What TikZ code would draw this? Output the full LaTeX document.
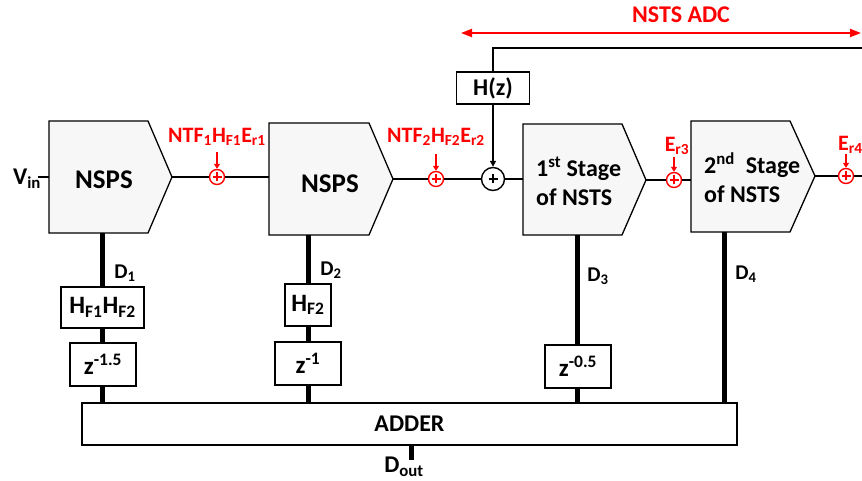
\documentclass[tikz,border=0pt]{standalone}
\usepackage{fontspec}
\setmainfont{Carlito}
\usetikzlibrary{arrows.meta}
\begin{document}
\begin{tikzpicture}[x=1pt,y=-1pt,
  wire/.style={line width=1.5pt},
  bus/.style={line width=5pt},
  blk/.style={draw, line width=1.3pt, fill=black!3, line join=miter},
  bx/.style={draw, line width=1.3pt, fill=white, inner sep=0pt, font=\bfseries\fontsize{25}{28}\selectfont},
  lbl/.style={font=\bfseries\fontsize{21}{24}\selectfont, inner sep=0pt},
  mid/.style={font=\bfseries\fontsize{24}{29}\selectfont, inner sep=0pt},
  rlbl/.style={text=red, font=\bfseries\fontsize{22}{24}\selectfont, inner sep=0pt},
  summ/.style={circle, draw=#1, line width=1.4pt, inner sep=0pt, fill=white,
    path picture={\draw[#1, line width=1.6pt]
      ([xshift=-4.5pt]path picture bounding box.center) -- ([xshift=4.5pt]path picture bounding box.center)
      ([yshift=-4.5pt]path picture bounding box.center) -- ([yshift=4.5pt]path picture bounding box.center);}},
  rarr/.style={red, line width=1.5pt, -{Triangle[length=5pt,width=6pt]}},
]
\useasboundingbox (0,0) rectangle (862,481);

% ---- blocks (pentagons)
\draw[blk] (49,121) -- (148,121) -- (172,177) -- (148,233) -- (49,233) -- cycle;
\draw[blk] (269,123) -- (369,123) -- (393,179) -- (369,235) -- (269,235) -- cycle;
\draw[blk] (523,124) -- (622,124) -- (646,180) -- (622,235) -- (523,235) -- cycle;
\draw[blk] (691,121) -- (790,121) -- (815,176) -- (790,232) -- (691,232) -- cycle;

\coordinate (n1in) at (49,177);  \coordinate (n1out) at (172,177); \coordinate (n1b) at (102,233);
\coordinate (n2in) at (269,177); \coordinate (n2out) at (393,179); \coordinate (n2b) at (308,235);
\coordinate (s1in) at (523,179); \coordinate (s1out) at (646,180); \coordinate (s1b) at (577,235);
\coordinate (s2in) at (691,180); \coordinate (s2out) at (815,176); \coordinate (s2b) at (724,232);
\coordinate (vinL) at (38,177);  \coordinate (outR) at (862,176);

\node[font=\bfseries\fontsize{27}{30}\selectfont, inner sep=0pt] (nsps1) at (104,180) {NSPS};
\node[font=\bfseries\fontsize{27}{30}\selectfont, inner sep=0pt] (nsps2) at (330,184) {NSPS};
\node[mid, align=left, anchor=west] (st1) at (536,181) {1\textsuperscript{st} Stage\\of NSTS};
\node[mid, align=left, anchor=west] (st2) at (704,178) {2\textsuperscript{nd}\ \ Stage\\of NSTS};

% ---- summing nodes
\node[summ=red, minimum size=15pt] (e1) at (217,177) {};
\node[summ=red, minimum size=15pt] (e2) at (436,179) {};
\node[summ=black, minimum size=23pt] (bs) at (493,179) {};
\node[summ=red, minimum size=15pt] (e3) at (674,180) {};
\node[summ=red, minimum size=15pt] (e4) at (846,176) {};

% ---- main signal path
\draw[wire] (vinL) -- (n1in);
\draw[wire] (n1out) -- (e1) -- (n2in);
\draw[wire] (n2out) -- (e2) -- (bs) -- (s1in);
\draw[wire] (s1out) -- (e3) -- (s2in);
\draw[wire] (s2out) -- (e4) -- (outR);

\node[mid] (vin) at (27,179) {V\textsubscript{in}};

% ---- error labels
\node[rlbl] (l1) at (217,137) {NTF\textsubscript{1}H\textsubscript{F1}E\textsubscript{r1}};
\node[rlbl] (l2) at (436,137) {NTF\textsubscript{2}H\textsubscript{F2}E\textsubscript{r2}};
\node[rlbl] (l3) at (677,146) {E\textsubscript{r3}};
\node[rlbl, anchor=west] (l4) at (838,145) {E\textsubscript{r4}};
\coordinate (a1) at (217,152); \coordinate (a2) at (436,154);
\coordinate (a3) at (674,157); \coordinate (a4) at (846,154);
\draw[rarr] (a1) -- (e1);
\draw[rarr] (a2) -- (e2);
\draw[rarr] (a3) -- (e3);
\draw[rarr] (a4) -- (e4);

% ---- feedback H(z)
\node[bx, font=\bfseries\fontsize{24}{28}\selectfont, minimum width=73pt, minimum height=32pt] (hz) at (493,88) {H(z)};
\coordinate (fbR) at (862,48); \coordinate (fbL) at (493,48);
\draw[wire] (fbR) -- (fbL) -- (hz);
\draw[wire, -{Triangle[length=6pt,width=6pt]}] (hz) -- (bs);

% ---- NSTS ADC span
\node[text=red, font=\bfseries\fontsize{24}{28}\selectfont, inner sep=0pt] (adc) at (681,15) {NSTS ADC};
\coordinate (adcL) at (461,33); \coordinate (adcR) at (861,33);
\draw[red, line width=2pt, {Triangle[length=11pt,width=8pt]}-{Triangle[length=11pt,width=8pt]}] (adcL) -- (adcR);

% ---- digital outputs
\node[bx, minimum width=655pt, minimum height=42pt, font=\bfseries\fontsize{24}{28}\selectfont] (adder) at (409.5,424) {ADDER};

\node[bx, minimum width=83pt, minimum height=41pt] (hf12) at (102.5,307.5) {H\textsubscript{F1}H\textsubscript{F2}};
\node[bx, minimum width=66pt, minimum height=43pt] (z15) at (103,364.5) {z\textsuperscript{-1.5}};
\node[bx, minimum width=46pt, minimum height=42pt] (hf2) at (308,305) {H\textsubscript{F2}};
\node[bx, minimum width=66pt, minimum height=43pt] (z1) at (308,363.5) {z\textsuperscript{-1}};
\node[bx, minimum width=66pt, minimum height=43pt] (z05) at (578,366.5) {z\textsuperscript{-0.5}};

\draw[bus] (n1b) -- (hf12.north -| n1b);
\draw[bus] (hf12.south -| n1b) -- (z15.north -| n1b);
\draw[bus] (z15.south -| n1b) -- (adder.north -| n1b);
\draw[bus] (n2b) -- (hf2.north);
\draw[bus] (hf2.south) -- (z1.north);
\draw[bus] (z1.south) -- (adder.north -| z1.south);
\draw[bus] (s1b) -- (z05.north -| s1b);
\draw[bus] (z05.south -| s1b) -- (adder.north -| s1b);
\draw[bus] (s2b) -- (adder.north -| s2b);

\node[lbl] (d1) at (125,273) {D\textsubscript{1}};
\node[lbl] (d2) at (331,270) {D\textsubscript{2}};
\node[lbl] (d3) at (598,276) {D\textsubscript{3}};
\node[lbl] (d4) at (746,274) {D\textsubscript{4}};

\coordinate (doutE) at (411,460);
\draw[bus] (adder.south -| doutE) -- (doutE);
\node[mid] (dout) at (404,467) {D\textsubscript{out}};
\end{tikzpicture}
\end{document}
